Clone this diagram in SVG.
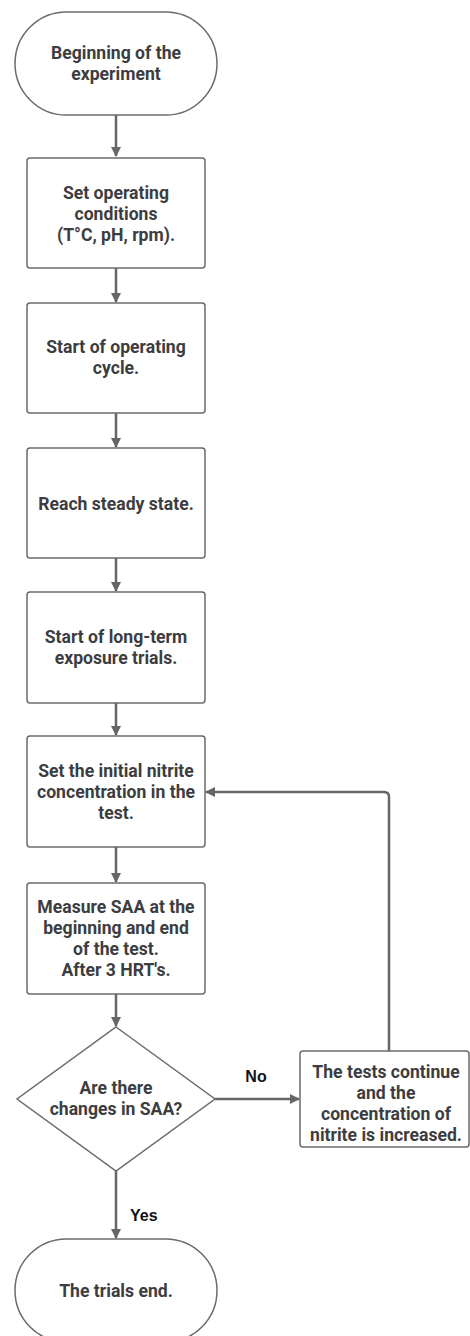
<svg xmlns="http://www.w3.org/2000/svg" width="470" height="1336" viewBox="0 0 470 1336">
<defs>
<style>
.node{fill:#fff;stroke:#6b6b6b;stroke-width:1.5}
.t{font-family:Roboto,"Liberation Sans",sans-serif;font-weight:700;font-size:17.6px;fill:#3d3d3f;text-anchor:middle;dominant-baseline:central}
.lbl{font-family:"Liberation Sans",Arial,sans-serif;font-weight:700;font-size:16px;fill:#111;dominant-baseline:central}
.c{fill:none;stroke:#666;stroke-width:2.5}
</style>
<marker id="ah" markerWidth="10" markerHeight="10" refX="9" refY="5" orient="auto" markerUnits="userSpaceOnUse" viewBox="0 0 10 10">
<path d="M0,0 L10,5 L0,10 Z" fill="#666"/>
</marker>
</defs>
<rect width="470" height="1336" fill="#fff"/>
<g id="connectors">
<path class="c" d="M116,115 V156" marker-end="url(#ah)"/>
<path class="c" d="M116,268 V302" marker-end="url(#ah)"/>
<path class="c" d="M116,413 V447" marker-end="url(#ah)"/>
<path class="c" d="M116,558 V591" marker-end="url(#ah)"/>
<path class="c" d="M116,703 V735" marker-end="url(#ah)"/>
<path class="c" d="M116,847 V882" marker-end="url(#ah)"/>
<path class="c" d="M116,994 V1026" marker-end="url(#ah)"/>
<path class="c" d="M116,1171 V1238" marker-end="url(#ah)"/>
<path class="c" d="M215,1099 H299" marker-end="url(#ah)"/>
<path class="c" d="M389,1051 V797 Q389,792 384,792 H206" marker-end="url(#ah)"/>
<text class="lbl" x="130" y="1215">Yes</text>
<text class="lbl" x="256" y="1076" text-anchor="middle">No</text>
</g>
<g id="start">
<rect class="node" x="15" y="12" width="202" height="103" rx="51.5" ry="51.5"/>
<text class="t" x="116" y="53">Beginning of the</text>
<text class="t" x="116" y="74">experiment</text>
</g>
<g id="set-conditions">
<rect class="node" x="27" y="158" width="178" height="110" rx="3"/>
<text class="t" x="116" y="193">Set operating</text>
<text class="t" x="116" y="214">conditions</text>
<text class="t" x="116" y="235">(T°C, pH, rpm).</text>
</g>
<g id="start-cycle">
<rect class="node" x="27" y="303" width="178" height="110" rx="3"/>
<text class="t" x="116" y="347">Start of operating</text>
<text class="t" x="116" y="368">cycle.</text>
</g>
<g id="steady-state">
<rect class="node" x="27" y="448" width="178" height="110" rx="3"/>
<text class="t" x="116" y="504">Reach steady state.</text>
</g>
<g id="long-term">
<rect class="node" x="27" y="592" width="178" height="111" rx="3"/>
<text class="t" x="116" y="637">Start of long-term</text>
<text class="t" x="116" y="658">exposure trials.</text>
</g>
<g id="set-nitrite">
<rect class="node" x="27" y="736" width="178" height="111" rx="3"/>
<text class="t" x="116" y="771">Set the initial nitrite</text>
<text class="t" x="116" y="792">concentration in the</text>
<text class="t" x="116" y="813">test.</text>
</g>
<g id="measure">
<rect class="node" x="27" y="883" width="178" height="111" rx="3"/>
<text class="t" x="116" y="907">Measure SAA at the</text>
<text class="t" x="116" y="928">beginning and end</text>
<text class="t" x="116" y="949">of the test.</text>
<text class="t" x="116" y="970">After 3 HRT's.</text>
</g>
<g id="decision">
<polygon class="node" points="116,1027 215,1099 116,1171 17,1099"/>
<text class="t" x="116" y="1088">Are there</text>
<text class="t" x="116" y="1109">changes in SAA?</text>
</g>
<g id="continue">
<rect class="node" x="300" y="1051" width="169" height="96" rx="3"/>
<text class="t" x="386" y="1072">The tests continue</text>
<text class="t" x="386" y="1093">and the</text>
<text class="t" x="386" y="1114">concentration of</text>
<text class="t" x="386" y="1135">nitrite is increased.</text>
</g>
<g id="end">
<rect class="node" x="15" y="1239" width="202" height="103" rx="51.5" ry="51.5"/>
<text class="t" x="116" y="1291">The trials end.</text>
</g>
</svg>
